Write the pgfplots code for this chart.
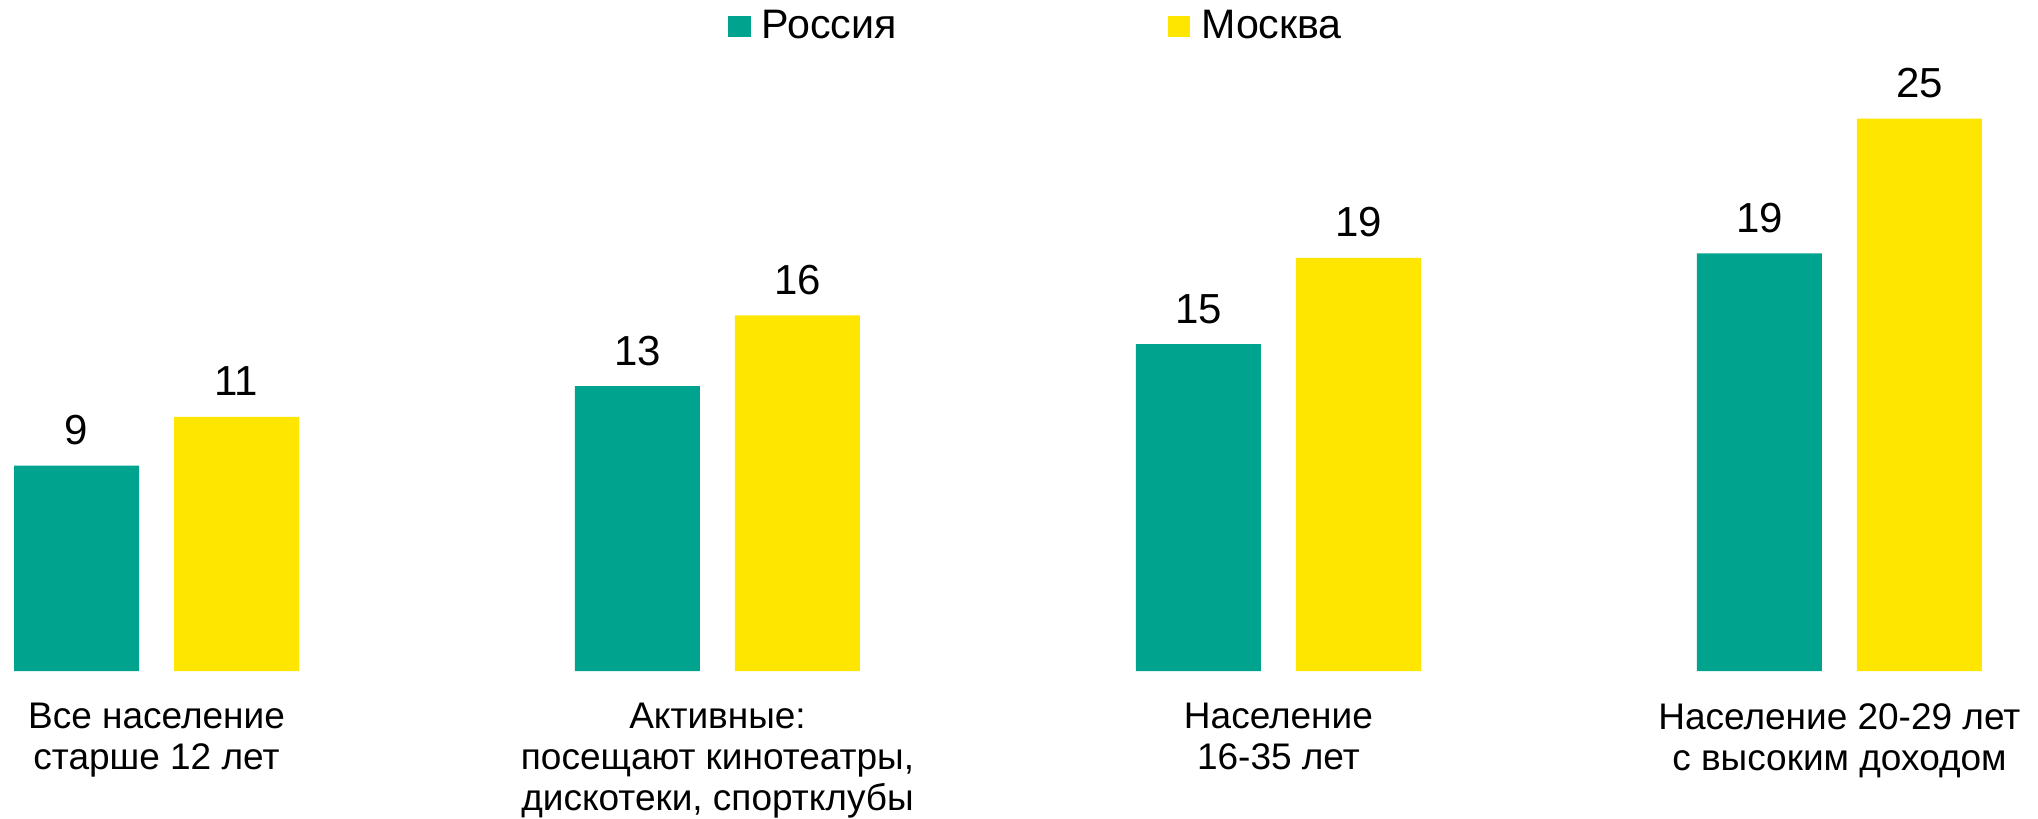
\documentclass[border=0pt]{standalone}
\usepackage{fontspec}
\setmainfont{Liberation Sans}
\usepackage{pgfplots}
\usepackage{pgfplotstable}
\pgfplotsset{compat=1.18}
\definecolor{teal1}{RGB}{0,163,142}
\definecolor{yel1}{RGB}{255,230,0}
\pgfplotstableread{
x r rl m ml
0 9.3 9 11.5 11
1 12.9 13 16.1 16
2 14.8 15 18.7 19
3 18.9 19 25.0 25
}\data
\begin{document}
\begin{tikzpicture}
\begin{axis}[
 x=280.5pt, y=11.05pt,
 xmin=-0.279, xmax=3.354, ymin=0, ymax=30.36,
 axis line style={draw=none},
 major tick length=0pt,
 ytick=\empty,
 xtick={0,1,2,3},
 xticklabels={{Все население\\старше 12 лет},{Активные:\\посещают кинотеатры,\\дискотеки, спортклубы},{Население\\16-35 лет},{Население 20-29 лет\\с высоким доходом}},
 xticklabel style={font=\fontsize{18.5}{20.5}\selectfont, align=center, anchor=north, inner sep=0pt, yshift=-16pt},
 ybar=17.5pt, bar width=62.5pt,
 clip=false,
 nodes near coords,
 every node near coord/.append style={font=\fontsize{21}{25}\selectfont, anchor=base, inner sep=0pt, yshift=10.5pt, text=black},
 legend columns=2,
 legend style={at={(rel axis cs:0.3572,0.9851)}, anchor=north west, draw=none, fill=none, inner sep=0pt, font=\fontsize{20.6}{24}\selectfont, nodes={inner sep=0pt}, /tikz/every odd column/.append style={column sep=5.5pt}, /tikz/every even column/.append style={column sep=135.5pt}},
]
\addplot[fill=teal1, draw=none, point meta=explicit symbolic, legend image code/.code={\fill[teal1] (0pt,-5.2pt) rectangle (11.2pt,5.3pt);}] table[x=x, y=r, meta=rl] {\data};
\addplot[fill=yel1, draw=none, point meta=explicit symbolic, legend image code/.code={\fill[yel1] (0pt,-5.2pt) rectangle (11.2pt,5.3pt);}] table[x=x, y=m, meta=ml] {\data};
\legend{Россия, Москва}
\end{axis}
\end{tikzpicture}
\end{document}
